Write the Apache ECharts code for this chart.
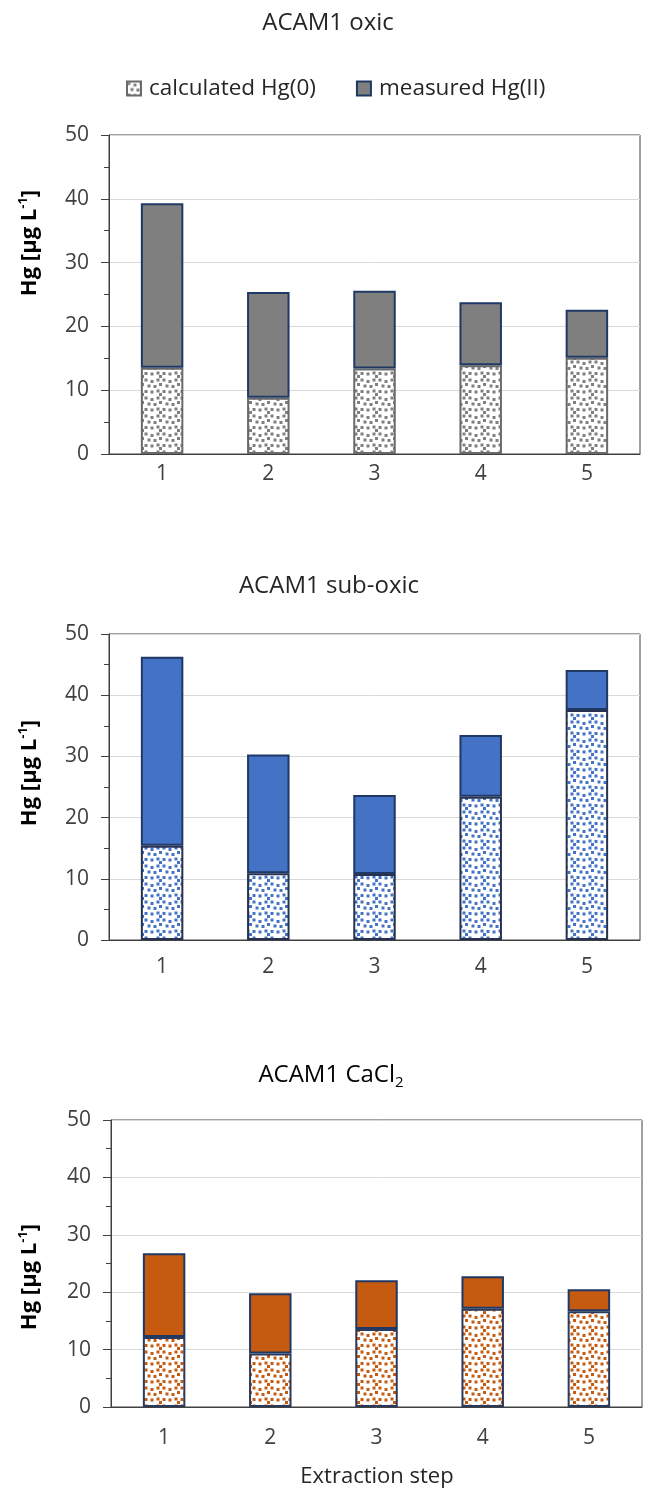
<!DOCTYPE html>
<html>
<head>
<meta charset="utf-8">
<script src="https://cdn.jsdelivr.net/npm/echarts@6/dist/echarts.min.js"></script>
<style>
  html, body { margin: 0; padding: 0; background: #ffffff; }
  #chart { width: 650px; height: 1491px; }
</style>
</head>
<body>
<div id="chart"></div>
<script>
// ---- data ----
const categories = ['1', '2', '3', '4', '5'];
const yTicks = [0, 10, 20, 30, 40, 50];

const oxicHg0  = [13.5, 8.8, 13.4, 13.9, 15.1];
const oxicHgII = [25.8, 16.6, 12.2, 9.9, 7.5];

const subHg0   = [15.4, 10.9, 10.8, 23.4, 37.6];
const subHgII  = [30.9, 19.4, 12.9, 10.1, 6.5];

const caHg0    = [12.2, 9.3, 13.6, 17.1, 16.7];
const caHgII   = [14.6, 10.5, 8.5, 5.7, 3.8];

const titles = ['ACAM1 oxic', 'ACAM1 sub-oxic', 'ACAM1 CaCl'];
const legendNames = ['calculated Hg(0)', 'measured Hg(II)'];

// ---- styling ----
const FONT = '"Open Sans", "Noto Sans", sans-serif';
const NAVY = '#1f3864';

function dotPattern(color) {
  const S = 18;
  const c = document.createElement('canvas');
  c.width = S; c.height = S;
  const ctx = c.getContext('2d');
  ctx.fillStyle = '#ffffff';
  ctx.fillRect(0, 0, S, S);
  ctx.fillStyle = color;
  const pos = [[0.5,0.5],[6.5,2],[12.5,0.5],[3.5,6.5],[9.5,7],[15,5],
               [0.5,12],[6.5,12.5],[12.5,11.5],[15,15]];
  pos.forEach(p => ctx.fillRect(p[0], p[1], 3, 3));
  return { image: c, repeat: 'repeat' };
}

const grids = [
  { left: 109, right: 10, top: 135, height: 319 },
  { left: 109, right: 10, top: 634, height: 306 },
  { left: 111, right: 8, top: 1120, height: 287 }
];
const xLabelMargins = [10, 17, 21];

const xAxes = grids.map((g, i) => ({
  type: 'category', gridIndex: i, data: categories,
  axisLine: { show: true, lineStyle: { color: '#404040', width: 1 } },
  axisTick: { show: false },
  axisLabel: { fontSize: 21, fontFamily: FONT, color: '#404040', margin: xLabelMargins[i] }
}));

const yAxes = grids.map((g, i) => ({
  type: 'value', gridIndex: i, min: yTicks[0], max: yTicks[yTicks.length - 1], interval: 10,
  axisLine: { show: true, lineStyle: { color: '#404040', width: 1 } },
  axisTick: { show: true, length: 8, lineStyle: { color: '#404040' } },
  minorTick: { show: true, splitNumber: 2, length: 5, lineStyle: { color: '#404040' } },
  splitLine: { show: true, lineStyle: { color: '#d9d9d9', width: 1 } },
  axisLabel: { fontSize: 21, fontFamily: FONT, color: '#404040', margin: 20 }
}));

function barPair(i, hg0, hgII, dotColor, hg0Border, fill, suffix) {
  return [
    {
      name: legendNames[0] + suffix, type: 'bar', stack: 's' + i, xAxisIndex: i, yAxisIndex: i,
      data: hg0, barWidth: '40%',
      itemStyle: { color: dotPattern(dotColor), borderColor: hg0Border, borderWidth: 2 }
    },
    {
      name: legendNames[1] + suffix, type: 'bar', stack: 's' + i, xAxisIndex: i, yAxisIndex: i,
      data: hgII, barWidth: '40%',
      itemStyle: { color: fill, borderColor: NAVY, borderWidth: 2 }
    }
  ];
}

const series = [].concat(
  barPair(0, oxicHg0, oxicHgII, '#7f7f7f', '#6a6a6a', '#7f7f7f', ''),
  barPair(1, subHg0, subHgII, '#4472c4', '#26324f', '#4472c4', ' (sub-oxic)'),
  barPair(2, caHg0, caHgII, '#c55a11', '#2a3a5e', '#c55a11', ' (CaCl2)')
);

const ylabelRich = {
  a: { fontSize: 22, fontWeight: 'bold', fontFamily: FONT, color: '#262626', lineHeight: 27 },
  s: { fontSize: 13, fontWeight: 'bold', fontFamily: FONT, color: '#262626', lineHeight: 13, verticalAlign: 'top' }
};
const yLabelPos = [[30, 243], [30, 773], [30, 1277]];

const graphics = [
  { type: 'text', x: 328, y: 23, style: { text: titles[0], fontSize: 24, fontFamily: FONT, fill: '#262626', align: 'center', verticalAlign: 'middle' } },
  { type: 'text', x: 329, y: 586, style: { text: titles[1], fontSize: 24, fontFamily: FONT, fill: '#262626', align: 'center', verticalAlign: 'middle' } },
  { type: 'text', x: 331, y: 1075, style: {
      text: '{a|' + titles[2] + '}{s|2}', align: 'center', verticalAlign: 'middle',
      rich: {
        a: { fontSize: 24, fontFamily: FONT, color: '#262626', lineHeight: 30 },
        s: { fontSize: 15, fontFamily: FONT, color: '#262626', lineHeight: 15, verticalAlign: 'bottom' }
      } } },
  { type: 'text', x: 377, y: 1477, style: { text: 'Extraction step', fontSize: 22, fontFamily: FONT, fill: '#262626', align: 'center', verticalAlign: 'middle' } }
].concat(yLabelPos.map(p => ({
  type: 'text', x: p[0], y: p[1], rotation: Math.PI / 2,
  style: { text: '{a|Hg [µg L}{s|-1}{a|]}', rich: ylabelRich, align: 'center', verticalAlign: 'middle' }
})));

const chart = echarts.init(document.getElementById('chart'), null, { renderer: 'canvas' });
chart.setOption({
  backgroundColor: '#ffffff',
  animation: false,
  grid: grids.map(g => Object.assign({ show: true, borderColor: '#404040', borderWidth: 1, backgroundColor: 'transparent', containLabel: false }, g)),
  legend: {
    data: legendNames, left: 121, top: 72, icon: 'rect', itemWidth: 14, itemHeight: 14, itemGap: 40,
    selectedMode: false,
    textStyle: { fontSize: 22.5, fontFamily: FONT, color: '#262626', padding: [0, 0, 0, 3] }
  },
  xAxis: xAxes,
  yAxis: yAxes,
  series: series,
  graphic: graphics
});
</script>
</body>
</html>
